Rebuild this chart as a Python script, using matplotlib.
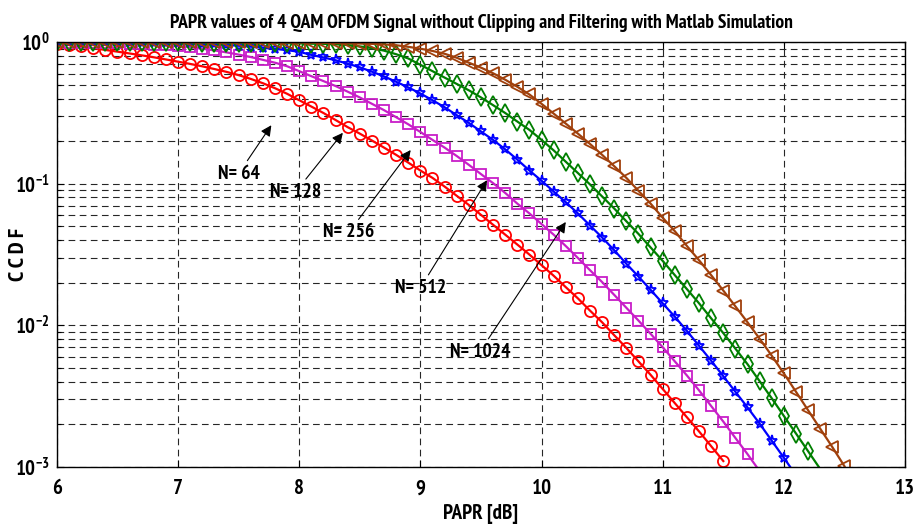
import numpy as np
import matplotlib
matplotlib.use("Agg")
import matplotlib.pyplot as plt
from matplotlib.ticker import LogLocator, NullFormatter, FixedLocator
from matplotlib import font_manager

# pick a narrow bold sans (Helvetica Narrow look)
prefs = ['Nimbus Sans Narrow', 'Liberation Sans Narrow', 'Arial Narrow', 'Archivo Narrow',
         'PT Sans Narrow', 'Roboto Condensed', 'Asap Condensed', 'Barlow Semi Condensed']
bold_names = {f.name for f in font_manager.fontManager.ttflist
              if str(f.weight) in ('700', 'bold') and f.style == 'normal'}
narrow_font = next((p for p in prefs if p in bold_names), 'Liberation Sans')

plt.rcParams['font.family'] = [narrow_font, 'DejaVu Sans']
plt.rcParams['font.weight'] = 'bold'
plt.rcParams['mathtext.fontset'] = 'custom'
plt.rcParams['mathtext.rm'] = narrow_font + ':bold'
plt.rcParams['mathtext.it'] = narrow_font + ':bold'
plt.rcParams['mathtext.bf'] = narrow_font + ':bold'

# PAPR axis, 0.1 dB steps
papr = np.arange(60, 126) / 10.0

# CCDF
ccdf_64 = [0.977, 0.955, 0.933, 0.908, 0.881, 0.857, 0.832, 0.807, 0.782, 0.755,
           0.728, 0.702, 0.675, 0.646, 0.617, 0.585, 0.550, 0.513, 0.473, 0.432,
           0.389, 0.351, 0.316, 0.282, 0.251, 0.226, 0.202, 0.180, 0.160, 0.141,
           0.124, 0.110, 0.0955, 0.0822, 0.0708, 0.0603, 0.0513, 0.0437, 0.0372, 0.0316,
           0.0266, 0.0224, 0.0186, 0.0155, 0.0127, 0.0105, 0.00851, 0.00692, 0.00556, 0.00447,
           0.00355, 0.00282, 0.00224, 0.00178, 0.00140, 0.00110]
ccdf_128 = [0.995, 0.993, 0.991, 0.989, 0.986, 0.982, 0.977, 0.971, 0.962, 0.951,
            0.938, 0.920, 0.899, 0.875, 0.847, 0.817, 0.785, 0.750, 0.716, 0.676,
            0.624, 0.575, 0.531, 0.490, 0.447, 0.407, 0.367, 0.331, 0.295, 0.263,
            0.232, 0.204, 0.180, 0.157, 0.136, 0.117, 0.101, 0.0861, 0.0724, 0.0617,
            0.0519, 0.0437, 0.0363, 0.0299, 0.0245, 0.0202, 0.0164, 0.0133, 0.0108, 0.00871,
            0.00700, 0.00556, 0.00442, 0.00347, 0.00269, 0.00209, 0.00160, 0.00123, 0.000933]
ccdf_256 = [0.998, 0.998, 0.997, 0.997, 0.996, 0.995, 0.994, 0.993, 0.991, 0.988,
            0.984, 0.979, 0.973, 0.966, 0.955, 0.943, 0.929, 0.912, 0.897, 0.878,
            0.855, 0.813, 0.780, 0.745, 0.705, 0.664, 0.619, 0.573, 0.525, 0.479,
            0.434, 0.389, 0.347, 0.305, 0.269, 0.234, 0.204, 0.175, 0.148, 0.124,
            0.105, 0.0881, 0.0741, 0.0617, 0.0507, 0.0417, 0.0339, 0.0272, 0.0221, 0.0178,
            0.0143, 0.0115, 0.00912, 0.00716, 0.00562, 0.00437, 0.00339, 0.00263, 0.00202, 0.00153,
            0.00116, 0.000871]
ccdf_512 = [0.999, 0.999, 0.999, 0.999, 0.998, 0.998, 0.998, 0.997, 0.997, 0.996,
            0.996, 0.995, 0.994, 0.993, 0.992, 0.991, 0.989, 0.987, 0.985, 0.982,
            0.979, 0.975, 0.973, 0.966, 0.955, 0.933, 0.908, 0.871, 0.822, 0.767,
            0.692, 0.624, 0.562, 0.507, 0.457, 0.407, 0.359, 0.316, 0.275, 0.240,
            0.204, 0.172, 0.143, 0.119, 0.0989, 0.0813, 0.0668, 0.0543, 0.0442, 0.0355,
            0.0285, 0.0226, 0.0180, 0.0143, 0.0112, 0.00881, 0.00684, 0.00531, 0.00403, 0.00305,
            0.00229, 0.00172, 0.00129, 0.000966]
ccdf_1024 = [0.999, 0.999, 0.999, 0.999, 0.999, 0.999, 0.999, 0.999, 0.999, 0.999,
             0.999, 0.999, 0.998, 0.998, 0.998, 0.997, 0.997, 0.996, 0.995, 0.994,
             0.993, 0.991, 0.989, 0.986, 0.982, 0.977, 0.973, 0.964, 0.951, 0.927,
             0.899, 0.867, 0.828, 0.776, 0.716, 0.661, 0.603, 0.543, 0.484, 0.427,
             0.367, 0.313, 0.266, 0.226, 0.191, 0.160, 0.133, 0.110, 0.0891, 0.0724,
             0.0575, 0.0462, 0.0363, 0.0288, 0.0226, 0.0176, 0.0136, 0.0105, 0.00804, 0.00610,
             0.00457, 0.00339, 0.00251, 0.00186, 0.00138, 0.00101]

series = [
    (ccdf_64, '#ff0000', 'o', 8, "N= 64"),
    (ccdf_128, '#c81ec8', 's', 7, "N= 128"),
    (ccdf_256, '#0000ff', '*', 8, "N= 256"),
    (ccdf_512, '#007f00', 'd', 9, "N= 512"),
    (ccdf_1024, '#a0400c', '<', 8.5, "N= 1024"),
]

# annotation text position and arrow tip (PAPR, CCDF)
label_xy = [(7.50, 0.118), (7.97, 0.0875), (8.41, 0.0454), (9.00, 0.0184), (9.49, 0.0065)]
arrow_xy = [(7.77, 0.259), (8.36, 0.229), (8.92, 0.173), (9.55, 0.106), (10.20, 0.0537)]

fig, ax = plt.subplots(figsize=(9.17, 5.27), dpi=100)
fig.subplots_adjust(left=0.062, right=0.987, top=0.920, bottom=0.114)

for vals, col, mk, ms, lab in series:
    x = papr[:len(vals)]
    n = len(vals)
    every = slice(0, n) if vals[-1] >= 0.001 else slice(0, n - 1)
    ax.semilogy(x, vals, color=col, marker=mk, markersize=ms, markerfacecolor='none',
                markeredgecolor=col, markeredgewidth=1.3, linewidth=1.6, markevery=every)

for (lab_pos, tip), s in zip(zip(label_xy, arrow_xy), series):
    ax.annotate(s[4], xy=tip, xytext=lab_pos, ha='center', va='center', fontsize=14,
                fontweight='bold',
                arrowprops=dict(arrowstyle='-|>', color='k', lw=0.8, mutation_scale=16,
                                shrinkA=1, shrinkB=0))

ax.set_xlim(6, 13)
ax.set_ylim(1e-3, 1)
ax.set_xticks(range(6, 14))
ax.yaxis.set_major_locator(FixedLocator([1e-3, 1e-2, 1e-1, 1]))
ax.set_yticklabels([r'$10^{-3}$', r'$10^{-2}$', r'$10^{-1}$', r'$10^{0}$'])
ax.yaxis.set_minor_locator(LogLocator(base=10, subs=np.arange(2, 10), numticks=20))
ax.yaxis.set_minor_formatter(NullFormatter())

ax.grid(True, which='major', axis='x', linestyle=(0, (6, 4)), color='0.15', linewidth=0.8)
ax.grid(True, which='both', axis='y', linestyle=(0, (6, 4)), color='0.15', linewidth=0.8)
ax.tick_params(which='both', direction='in', top=True, right=True, labelsize=15, width=0.8)
ax.tick_params(which='major', length=5)
ax.tick_params(which='minor', length=3)
ax.tick_params(axis='x', pad=9)
ax.tick_params(axis='y', pad=5)
for sp in ax.spines.values():
    sp.set_linewidth(1.0)

ax.set_title("PAPR values of 4 QAM OFDM Signal without Clipping and Filtering with Matlab Simulation",
             fontsize=14, fontweight='bold', pad=10)
ax.set_xlabel("PAPR [dB]", fontsize=15, fontweight='bold', labelpad=4)
ax.set_ylabel("C C D F", fontsize=16, fontweight='bold')
ax.yaxis.set_label_coords(-0.034, 0.5)

plt.savefig("out.png", dpi=100)
